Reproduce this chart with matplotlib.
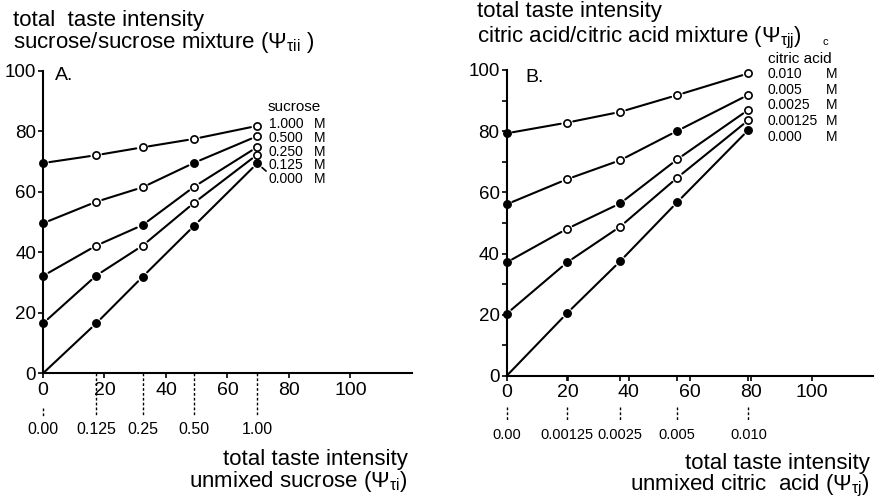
import matplotlib.pyplot as plt
from matplotlib.transforms import blended_transform_factory

plt.rcParams['font.family'] = ['Liberation Sans', 'DejaVu Sans']
plt.rcParams['mathtext.fontset'] = 'custom'
plt.rcParams['mathtext.rm'] = 'Liberation Sans'
plt.rcParams['mathtext.it'] = 'Liberation Sans:italic'
plt.rcParams['mathtext.bf'] = 'Liberation Sans:bold'

# ---------- A: sucrose / sucrose mixtures ----------
sucroseX = [0, 17.3, 32.4, 49.2, 69.7]          # unmixed intensity of each concentration
sucroseTicks = ['0.00', '0.125', '0.25', '0.50', '1.00']
sucroseConc = ['1.000', '0.500', '0.250', '0.125', '0.000']
sucroseMix = [
    [69.5, 72.1, 74.7, 77.5, 81.8],
    [49.6, 56.7, 61.5, 69.6, 78.4],
    [32.2, 42.2, 49.0, 61.7, 74.8],
    [16.5, 32.3, 42.2, 56.4, 72.3],
    [0.0, 16.5, 31.9, 48.8, 69.4],
]

# ---------- B: citric acid / citric acid mixtures ----------
citricX = [0, 19.8, 37.2, 55.9, 79.2]
citricTicks = ['0.00', '0.00125', '0.0025', '0.005', '0.010']
citricConc = ['0.010', '0.005', '0.0025', '0.00125', '0.000']
citricMix = [
    [79.3, 82.8, 86.3, 91.8, 98.9],
    [56.1, 64.3, 70.5, 80.1, 91.9],
    [37.1, 48.1, 56.4, 70.8, 87.0],
    [20.3, 37.1, 48.8, 64.8, 83.6],
    [0.0, 20.5, 37.5, 56.8, 80.4],
]

# 1 = filled, 0 = open, None = no marker (same pattern in both panels)
filled = [
    [1, 0, 0, 0, 0],
    [1, 0, 0, 1, 0],
    [1, 0, 1, 0, 0],
    [1, 1, 0, 0, 0],
    [None, 1, 1, 1, 1],
]

GAP = 4.6   # pts of blank line around each circle


def drawSeries(ax, xs, ys, marks):
    for i in range(len(xs) - 1):
        ax.annotate('', xy=(xs[i + 1], ys[i + 1]), xytext=(xs[i], ys[i]),
                    arrowprops=dict(arrowstyle='-', color='black', lw=1.5,
                                    shrinkA=0 if marks[i] is None else GAP,
                                    shrinkB=0 if marks[i + 1] is None else GAP))
    for x, y, m in zip(xs, ys, marks):
        if m is None:
            continue
        ax.plot(x, y, 'o', ms=5.2, mec='black', mew=1.2,
                mfc='black' if m else 'white', zorder=4, clip_on=False)


def setupAxes(ax):
    ax.set_xlim(0, 120)
    ax.set_ylim(0, 100)
    for s in ['top', 'right']:
        ax.spines[s].set_visible(False)
    for s in ['left', 'bottom']:
        ax.spines[s].set_linewidth(1.5)
    ax.set_xticks(range(0, 101, 20))
    ax.set_yticks(range(0, 101, 20))
    ax.tick_params(direction='out', length=3.5, width=1.2)
    ax.tick_params(axis='x', labelsize=14, pad=2.5)
    ax.tick_params(axis='y', labelsize=13.5, pad=1.5)


fig = plt.figure(figsize=(8.78, 5.0), dpi=100)
axA = fig.add_axes([0.049, 0.2534, 0.420, 0.605])
axB = fig.add_axes([0.5769, 0.248, 0.4174, 0.612])
setupAxes(axA)
setupAxes(axB)
axB.set_yticks(range(10, 100, 20), minor=True)
axB.set_xticks(citricX[1:], minor=True)
axB.tick_params(which='minor', direction='out', length=3.5, width=1.2)

for ys, marks in zip(sucroseMix, filled):
    drawSeries(axA, sucroseX, ys, marks)
for ys, marks in zip(citricMix, filled):
    drawSeries(axB, citricX, ys, marks)

# second row of x labels: concentrations (M)
trA = blended_transform_factory(axA.transData, axA.transAxes)
for i, (x, lab) in enumerate(zip(sucroseX, sucroseTicks)):
    top = -0.115 if i == 0 else 0.0
    axA.plot([x, x], [top, -0.14], transform=trA, color='black', lw=1,
             ls=(0, (2, 1.5)), clip_on=False)
    axA.text(x, -0.187, lab, transform=trA, ha='center', va='center', fontsize=11.5)

trB = blended_transform_factory(axB.transData, axB.transAxes)
for x, lab in zip(citricX, citricTicks):
    axB.plot([x, x], [-0.101, -0.144], transform=trB, color='black', lw=1,
             ls=(0, (2, 1.5)), clip_on=False)
    axB.text(x, -0.193, lab, transform=trB, ha='center', va='center', fontsize=10.5)

# series labels
axA.text(73.1, 88.0, 'sucrose', fontsize=11, va='center')
for i, c in enumerate(sucroseConc):
    y = 82.4 - 4.55 * i
    if c == '0.000':
        axA.annotate(c, xy=(sucroseX[-1], sucroseMix[-1][-1]), xytext=(73.5, y),
                     fontsize=10, va='center',
                     arrowprops=dict(arrowstyle='-', color='black', lw=1.2,
                                     shrinkA=0, shrinkB=GAP, relpos=(0, 0.9)))
    else:
        axA.text(73.5, y, c, fontsize=10, va='center')
    axA.text(88.3, y, 'M', fontsize=10, va='center')

axB.text(85.6, 103.6, 'citric acid', fontsize=11, va='center')
for i, c in enumerate(citricConc):
    y = 98.7 - 5.15 * i
    axB.text(85.6, y, c, fontsize=10, va='center')
    axB.text(104.7, y, 'M', fontsize=10, va='center')

axA.text(3.9, 98.6, 'A.', fontsize=14, va='center')
axB.text(6.1, 97.4, 'B.', fontsize=14, va='center')

# axis titles
fig.text(0.0148, 0.948, 'total  taste intensity', fontsize=16, va='baseline')
fig.text(0.0148, 0.904, r'sucrose/sucrose mixture ($\Psi_{\mathrm{\tau ii}}$ )',
         fontsize=16, va='baseline')
fig.text(0.543, 0.967, 'total taste intensity', fontsize=16, va='baseline')
fig.text(0.543, 0.915, r'citric acid/citric acid mixture ($\Psi_{\mathrm{\tau jj}}$)',
         fontsize=16, va='baseline')
fig.text(0.937, 0.91, 'c', fontsize=8, va='baseline')

fig.text(0.4647, 0.07, 'total taste intensity', fontsize=16, ha='right', va='baseline')
fig.text(0.4647, 0.0267, r'unmixed sucrose ($\Psi_{\mathrm{\tau i}}$)',
         fontsize=16, ha='right', va='baseline')
fig.text(0.991, 0.063, 'total taste intensity', fontsize=16, ha='right', va='baseline')
fig.text(0.991, 0.02, r'unmixed citric  acid ($\Psi_{\mathrm{\tau j}}$)',
         fontsize=16, ha='right', va='baseline')

fig.savefig('out.png', dpi=100)
